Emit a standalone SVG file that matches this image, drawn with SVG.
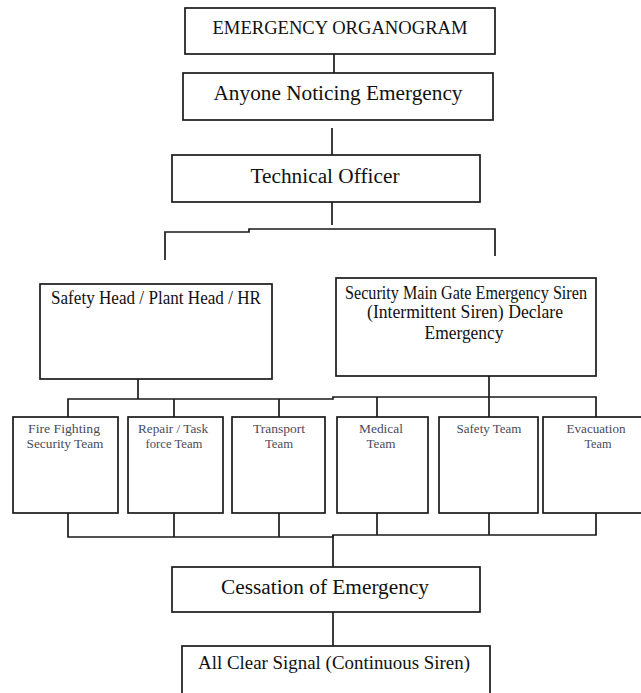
<svg xmlns="http://www.w3.org/2000/svg" width="641" height="693" viewBox="0 0 641 693">
<style>
.box{fill:#fff;stroke:#1a1a1a;stroke-width:1.7}
.conn{fill:none;stroke:#1a1a1a;stroke-width:1.7}
.t{font-family:"Liberation Serif","Times New Roman",serif;fill:#111;text-anchor:middle}
.big{font-size:20.5px}
.mid{font-size:18px}
.small{font-size:13px;fill:#4a4a5a}
</style>
<rect width="641" height="693" fill="#fff"/>
<g id="connectors">
  <path class="conn" d="M334 54V80"/>
  <path class="conn" d="M332 128V155"/>
  <path class="conn" d="M332 202V225"/>
  <path class="conn" d="M165 260V232H249V229H495V256"/>
  <path class="conn" d="M138 379V399"/>
  <path class="conn" d="M68 417V399H333V397H596V417"/>
  <path class="conn" d="M174 399V417"/>
  <path class="conn" d="M279 399V417"/>
  <path class="conn" d="M377 397V417"/>
  <path class="conn" d="M489 376V417"/>
  <path class="conn" d="M68 513V537H333V535H596V513"/>
  <path class="conn" d="M174 513V537"/>
  <path class="conn" d="M279 513V537"/>
  <path class="conn" d="M377 513V535"/>
  <path class="conn" d="M489 513V535"/>
  <path class="conn" d="M333 535V567"/>
  <path class="conn" d="M333 612V646"/>
</g>
<g id="title">
  <rect class="box" x="185" y="8" width="310" height="46"/>
  <text class="t mid" x="340" y="34" textLength="255" lengthAdjust="spacingAndGlyphs">EMERGENCY ORGANOGRAM</text>
</g>
<g id="anyone">
  <rect class="box" x="183" y="73" width="310" height="47"/>
  <text class="t big" x="338" y="100" textLength="249" lengthAdjust="spacingAndGlyphs">Anyone Noticing Emergency</text>
</g>
<g id="technical-officer">
  <rect class="box" x="172" y="155" width="308" height="47"/>
  <text class="t big" x="325" y="183" textLength="149" lengthAdjust="spacingAndGlyphs">Technical Officer</text>
</g>
<g id="safety-head">
  <rect class="box" x="40" y="284" width="232" height="95"/>
  <text class="t mid" x="156" y="304" textLength="210" lengthAdjust="spacingAndGlyphs">Safety Head / Plant Head / HR</text>
</g>
<g id="security">
  <rect class="box" x="336" y="278" width="260" height="98"/>
  <text class="t mid" x="466" y="299" textLength="242" lengthAdjust="spacingAndGlyphs">Security Main Gate Emergency Siren</text>
  <text class="t mid" x="465" y="318" textLength="196" lengthAdjust="spacingAndGlyphs">(Intermittent Siren) Declare</text>
  <text class="t mid" x="464" y="339" textLength="79" lengthAdjust="spacingAndGlyphs">Emergency</text>
</g>
<g id="fire-fighting">
  <rect class="box" x="13" y="417" width="105" height="96"/>
  <text class="t small" x="64" y="433" textLength="72" lengthAdjust="spacingAndGlyphs">Fire Fighting</text>
  <text class="t small" x="65" y="448" textLength="77" lengthAdjust="spacingAndGlyphs">Security Team</text>
</g>
<g id="repair">
  <rect class="box" x="128" y="417" width="95" height="96"/>
  <text class="t small" x="173" y="433" textLength="70" lengthAdjust="spacingAndGlyphs">Repair / Task</text>
  <text class="t small" x="174" y="448" textLength="57" lengthAdjust="spacingAndGlyphs">force Team</text>
</g>
<g id="transport">
  <rect class="box" x="232" y="417" width="93" height="96"/>
  <text class="t small" x="279" y="433" textLength="52" lengthAdjust="spacingAndGlyphs">Transport</text>
  <text class="t small" x="279" y="448" textLength="28" lengthAdjust="spacingAndGlyphs">Team</text>
</g>
<g id="medical">
  <rect class="box" x="337" y="417" width="91" height="96"/>
  <text class="t small" x="381" y="433" textLength="44" lengthAdjust="spacingAndGlyphs">Medical</text>
  <text class="t small" x="381" y="448" textLength="29" lengthAdjust="spacingAndGlyphs">Team</text>
</g>
<g id="safety-team">
  <rect class="box" x="439" y="417" width="99" height="96"/>
  <text class="t small" x="489" y="433" textLength="65" lengthAdjust="spacingAndGlyphs">Safety Team</text>
</g>
<g id="evacuation">
  <rect class="box" x="543" y="417" width="108" height="96"/>
  <text class="t small" x="596" y="433" textLength="59" lengthAdjust="spacingAndGlyphs">Evacuation</text>
  <text class="t small" x="598" y="448" textLength="27" lengthAdjust="spacingAndGlyphs">Team</text>
</g>
<g id="cessation">
  <rect class="box" x="172" y="567" width="308" height="45"/>
  <text class="t big" x="325" y="594" textLength="208" lengthAdjust="spacingAndGlyphs">Cessation of Emergency</text>
</g>
<g id="all-clear">
  <rect class="box" x="182" y="646" width="308" height="60"/>
  <text class="t mid" x="334" y="669" textLength="272" lengthAdjust="spacingAndGlyphs">All Clear Signal (Continuous Siren)</text>
</g>
</svg>
